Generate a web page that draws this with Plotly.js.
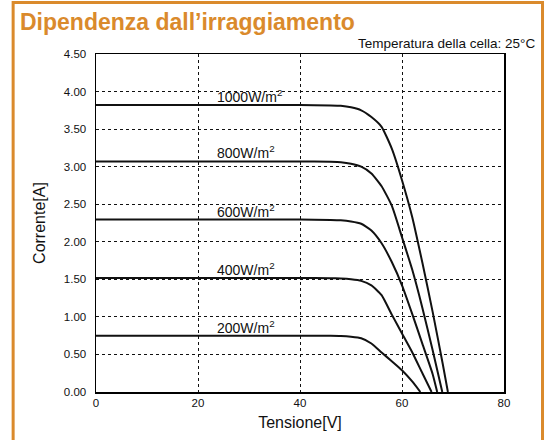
<!DOCTYPE html>
<html>
<head>
<meta charset="utf-8">
<script src="https://cdn.plot.ly/plotly-3.0.1.min.js"></script>
<style>
  html, body { margin: 0; padding: 0; background: #fff; }
  #chart { width: 545px; height: 440px; }
</style>
</head>
<body>
<div id="chart"></div>
<script>
// Voltage [V] / current [A] readings for each irradiance level
const v1000 = [0, 40, 46, 48, 50, 52, 54, 56, 58, 60, 62, 64, 66, 68, 69.0];
const i1000 = [3.82, 3.82, 3.815, 3.81, 3.79, 3.75, 3.66, 3.53, 3.24, 2.82, 2.33, 1.72, 1.07, 0.37, 0];

const v800 = [0, 40, 46, 48, 50, 52, 54, 56, 58, 60, 62, 64, 66, 67.9];
const i800 = [3.07, 3.07, 3.065, 3.06, 3.04, 3.00, 2.91, 2.74, 2.48, 2.06, 1.63, 1.12, 0.56, 0];

const v600 = [0, 40, 46, 48, 50, 52, 54, 56, 58, 60, 62, 64, 66, 66.9];
const i600 = [2.295, 2.295, 2.29, 2.285, 2.27, 2.24, 2.15, 1.98, 1.73, 1.42, 1.04, 0.64, 0.24, 0];

const v400 = [0, 40, 46, 48, 50, 52, 54, 56, 58, 60, 62, 64, 65.8];
const i400 = [1.518, 1.518, 1.515, 1.51, 1.50, 1.48, 1.42, 1.29, 1.03, 0.78, 0.53, 0.25, 0];

const v200 = [0, 40, 46, 48, 50, 52, 54, 56, 58, 60, 62, 63.6];
const i200 = [0.75, 0.75, 0.748, 0.745, 0.735, 0.715, 0.645, 0.525, 0.41, 0.29, 0.14, 0];

const curveLabels = ['1000W/m<sup>2</sup>', '800W/m<sup>2</sup>', '600W/m<sup>2</sup>', '400W/m<sup>2</sup>', '200W/m<sup>2</sup>'];
const labelVoltage = 23.3;

const xTicks = [0, 20, 40, 60, 80];
const yTicks = [0, 0.5, 1.0, 1.5, 2.0, 2.5, 3.0, 3.5, 4.0, 4.5];

const titleText = 'Dipendenza dall\u2019irraggiamento';
const subtitleText = 'Temperatura della cella: 25\u00B0C';
const xTitle = 'Tensione[V]';
const yTitle = 'Corrente[A]';

const ORANGE = '#DA8A2C';
const FONT = 'Liberation Sans, Arial, Helvetica, sans-serif';

const series = [[v1000, i1000], [v800, i800], [v600, i600], [v400, i400], [v200, i200]];

const traces = series.map(([v, i]) => ({
  x: v, y: i, type: 'scatter', mode: 'lines',
  line: { color: '#111', width: 2, shape: 'spline', smoothing: 0.5 },
  hoverinfo: 'skip', showlegend: false
}));

const annotations = series.map(([v, i], k) => ({
  x: labelVoltage, y: i[0], xref: 'x', yref: 'y',
  text: curveLabels[k], showarrow: false,
  xanchor: 'left', yanchor: 'bottom', yshift: -2,
  font: { family: FONT, size: 14, color: '#111' }
}));

annotations.push({
  x: 1.081, y: 1.0325, xref: 'paper', yref: 'paper',
  text: subtitleText, showarrow: false, xanchor: 'right', yanchor: 'middle',
  font: { family: FONT, size: 13.5, color: '#111' }
});

const layout = {
  width: 545, height: 440,
  margin: { l: 96, r: 41, t: 54, b: 48, pad: 0 },
  paper_bgcolor: '#fff', plot_bgcolor: '#fff',
  font: { family: FONT, color: '#111' },
  title: {
    text: '<b>' + titleText + '</b>',
    xref: 'container', yref: 'container',
    x: 20 / 545, xanchor: 'left',
    y: 1 - 14 / 440, yanchor: 'top',
    font: { family: FONT, size: 23, color: ORANGE }
  },
  xaxis: {
    range: [0, 80], tickvals: xTicks, ticktext: xTicks.map(String),
    showgrid: true, gridcolor: '#111', gridwidth: 1, griddash: '3px,3px',
    zeroline: false, showline: true, linecolor: '#000', linewidth: 1.5, mirror: true,
    ticks: '', tickfont: { family: FONT, size: 11.5, color: '#111' },
    title: { text: xTitle, font: { family: FONT, size: 16, color: '#111' }, standoff: 8 },
    fixedrange: true
  },
  yaxis: {
    range: [0, 4.5], tickvals: yTicks, ticktext: yTicks.map(t => t.toFixed(2)),
    showgrid: true, gridcolor: '#111', gridwidth: 1, griddash: '3px,3px',
    zeroline: false, showline: true, linecolor: '#000', linewidth: 1.5, mirror: true,
    ticks: '', ticklabelstandoff: 6, tickfont: { family: FONT, size: 11.5, color: '#111' },
    title: { text: yTitle, font: { family: FONT, size: 16, color: '#111' }, standoff: 14 },
    fixedrange: true
  },
  annotations: annotations,
  shapes: [{
    type: 'rect', xref: 'paper', yref: 'paper', layer: 'below',
    x0: -0.2031, x1: 1.0944, y0: -0.16, y1: 1.1522,
    line: { color: ORANGE, width: 3 }, fillcolor: 'rgba(0,0,0,0)'
  }]
};

Plotly.newPlot('chart', traces, layout, { displayModeBar: false, staticPlot: true });
</script>
</body>
</html>
